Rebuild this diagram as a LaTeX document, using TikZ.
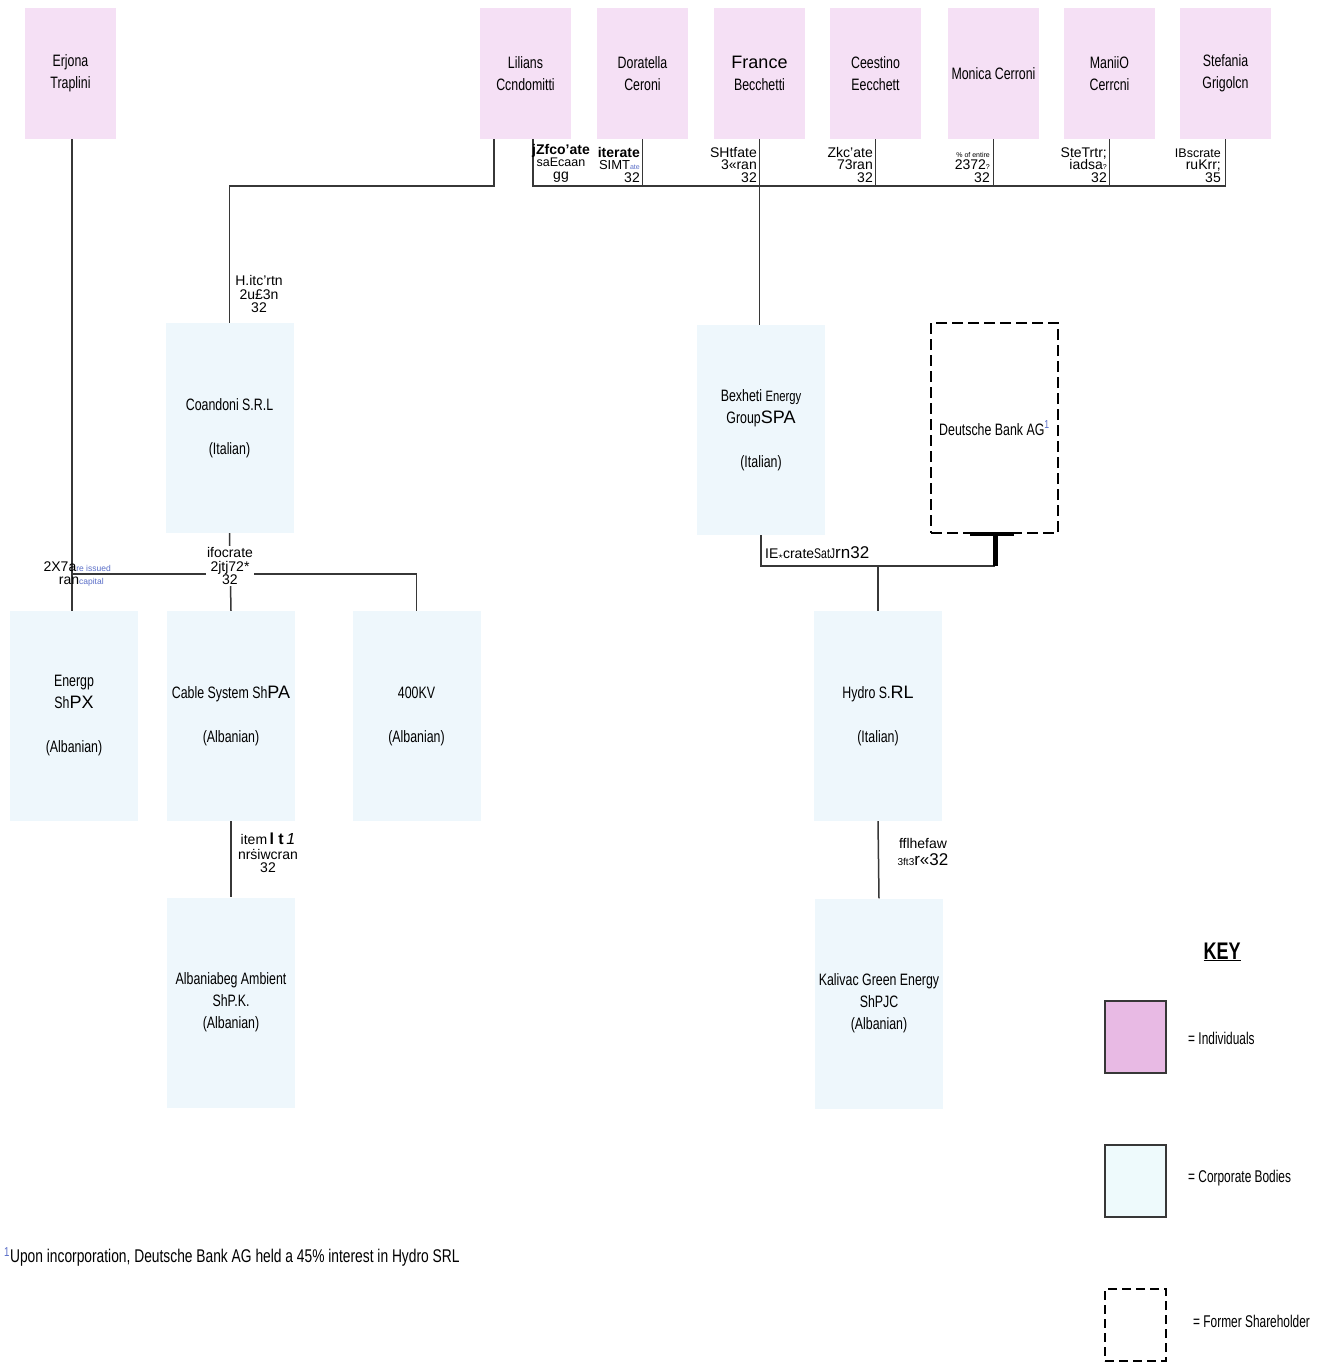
\documentclass[tikz,border=0pt]{standalone}
\usepackage{fontspec}
\setmainfont{Liberation Sans}
\newfontfamily\narrow[FakeStretch=0.75]{Liberation Sans}
\newfontfamily\keyfnt[FakeStretch=0.7]{Liberation Sans}
\definecolor{pinkc}{RGB}{245,224,245}
\definecolor{bluec}{RGB}{238,247,252}
\definecolor{keypink}{RGB}{232,186,228}
\definecolor{keyblue}{RGB}{238,250,252}
\definecolor{linec}{RGB}{55,55,55}
\definecolor{supc}{RGB}{90,110,200}
\tikzset{
  person/.style={fill=pinkc, minimum width=91pt, minimum height=131pt, inner sep=0pt, align=center, font=\narrow\fontsize{16.5}{22}\selectfont},
  corp/.style={fill=bluec, minimum width=128pt, minimum height=210pt, inner sep=0pt, align=center, font=\narrow\fontsize{16.5}{22}\selectfont},
  former/.style={draw=black, line width=2.6pt, dash pattern=on 11pt off 5pt, minimum width=127pt, minimum height=210pt, inner sep=0pt, align=center, font=\narrow\fontsize{16.5}{22}\selectfont},
  conn/.style={draw=linec, line width=1.5pt},
  lbl/.style={font=\fontsize{14}{13.5}\selectfont, align=center, inner sep=1pt},
  lblr/.style={font=\fontsize{14}{13.5}\selectfont, align=right, inner sep=1pt, anchor=south east},
  keybox/.style={draw=linec, line width=1.6pt, minimum width=61pt, minimum height=72pt, inner sep=0pt},
  keytxt/.style={anchor=west, font=\keyfnt\fontsize{17}{20}\selectfont, inner sep=0pt}
}
\begin{document}
\begin{tikzpicture}[x=1pt,y=-1pt]
\useasboundingbox[fill=white] (0,0) rectangle (1319,1371);
% individuals
\node[person] (erj) at (70.5,73.5) {Erjona\\Traplini};
\node[person] (lil) at (525.5,73.5) {Lilians\\Ccndomitti};
\node[person] (dor) at (642.5,73.5) {Doratella\\Ceroni};
\node[person] (fra) at (759.5,73.5) {{\rmfamily\fontsize{18}{22}\selectfont France}\\Becchetti};
\node[person] (cee) at (875.5,73.5) {Ceestino\\Eecchett};
\node[person] (mon) at (993.5,73.5) {Monica Cerroni};
\node[person] (man) at (1109.5,73.5) {ManiiO\\Cerrcni};
\node[person] (ste) at (1225.5,73.5) {Stefania\\Grigolcn};
% corporate bodies
\node[corp] (coa) at (229.5,428) {Coandoni S.R.L\\[22pt](Italian)};
\node[corp] (bex) at (761,430) {Bexheti {\fontsize{15}{22}\selectfont Energy}\\Group{\rmfamily\fontsize{18}{22}\selectfont SPA}\\[22pt](Italian)};
\node[former] (db) at (994.5,428) {Deutsche Bank AG\textsuperscript{\color{supc}1}};
\node[corp] (ene) at (74,716) {Energp\\Sh{\rmfamily\fontsize{18}{22}\selectfont PX}\\[22pt](Albanian)};
\node[corp] (cab) at (231,716) {Cable System Sh{\rmfamily\fontsize{18}{22}\selectfont PA}\\[22pt](Albanian)};
\node[corp] (kv) at (416.5,716) {400KV\\[22pt](Albanian)};
\node[corp] (hyd) at (878,716) {Hydro S.{\rmfamily\fontsize{18}{22}\selectfont RL}\\[22pt](Italian)};
\node[corp] (alb) at (231,1002.5) {Albaniabeg Ambient\\ShP.K.\\(Albanian)};
\node[corp] (kal) at (879,1003.5) {Kalivac Green Energy\\ShPJC\\(Albanian)};
% connectors: Erjona
\draw[conn] ([xshift=1.5pt]erj.south) -- ([xshift=1.5pt]erj.south |- ene.north);
% Lilians to Coandoni
\coordinate (lilA) at ([xshift=-31.5pt]lil.south);
\draw[conn] (lilA) -- ++(0,47) -| (coa.north);
\node[lbl, fill=white] (lcoa) at (259,294) {H.itc'rtn\\2u\textsterling3n\\32};
% top bus
\coordinate (lilB) at ([xshift=7.5pt]lil.south);
\coordinate (busL) at (533,186);
\coordinate (busR) at (1225.5,186);
\draw[conn] (lilB) -- (busL) -- (busR) -- (ste.south);
\foreach \p in {dor,fra,cee,mon,man} \draw[conn] (\p.south) -- (\p.south |- busL);
\draw[conn] (fra.south |- busL) -- (fra.south |- bex.north);
% labels above bus
\node[lbl, anchor=south] (l1) at (561,184) {\textbf{jZfco'ate}\\[-2pt]{\fontsize{12.5}{12}\selectfont saEcaan}\\gg};
\node[lblr] (l2) at (641,184) {\textbf{iterate}\\[-2pt]{\fontsize{13}{12}\selectfont SIMT{\fontsize{7}{7}\selectfont\color{supc}ate}}\\32};
\node[lblr] (l3) at (758,184) {SHtfate\\[-2pt]3\guillemotleft ran\\32};
\node[lblr] (l4) at (874,184) {Zkc'ate\\[-2pt]73{\rmfamily ran}\\32};
\node[lblr] (l5) at (991,184) {{\fontsize{7}{7}\selectfont \% of entire}\\[-2pt]2372{\scriptsize ?}\\32};
\node[lblr] (l6) at (1108,184) {SteTrtr;\\[-2pt]iadsa{\scriptsize ?}\\32};
\node[lblr] (l7) at (1222,184) {{\fontsize{12.5}{12}\selectfont IBscrate}\\[-2pt]ruKrr;\\35};
% Coandoni group
\coordinate (b2L) at (72.5,574);
\draw[conn] (coa.south) -- (cab.north);
\draw[conn] (b2L) -- (b2L -| kv.north) -- (kv.north);
\node[lbl, fill=white] (lcab) at (230,566) {ifocrate\\2jtj72*\\32};
\node[lbl, anchor=east, align=right] (lene) at (112,574) {2X7a{\fontsize{8.5}{8}\selectfont\color{supc}re issued}\\ran{\fontsize{8.5}{8}\selectfont\color{supc}capital\,\,\,\,\,}};
% Bexheti group
\coordinate (b3L) at (761,566);
\coordinate (b3R) at (995,566);
\draw[conn] (bex.south) -- (b3L) -- (b3R);
\draw[line width=5pt, draw=black] (b3R) -- (b3R |- db.south);
\draw[line width=4pt, draw=black] ([xshift=-25pt]db.south) -- ([xshift=19pt]db.south);
\draw[conn] (hyd.north |- b3L) -- (hyd.north);
\node[lbl, anchor=west] (lhyd) at (764,553) {IE{\small$\star$}crate{\narrow\fontsize{14}{11}\selectfont SatJ}{\fontsize{17}{14}\selectfont rn32}};
% lower links
\draw[conn] (cab.south) -- (alb.north);
\node[lbl] (lalb) at (268,853) {item\,{\fontsize{16}{13}\selectfont\textbf{l t}\,\textit{1}}\\[1pt]nr\.{s}iwcran\\32};
\draw[conn] (hyd.south) -- (kal.north);
\node[lbl] (lkal) at (923,852) {fflhefaw\\[3pt]{\fontsize{10}{10}\selectfont 3ft3}{\fontsize{17}{13}\selectfont r\guillemotleft 32}};
% key
\node[font=\narrow\bfseries\fontsize{24}{24}\selectfont, inner sep=0pt] (key) at (1222,952) {\underline{KEY}};
\node[keybox, fill=keypink] (k1) at (1135.5,1037) {};
\node[keytxt] (k1t) at (1188,1038) {= Individuals};
\node[keybox, fill=keyblue] (k2) at (1135.5,1181) {};
\node[keytxt] (k2t) at (1188,1178) {= Corporate Bodies};
\node[keybox, draw=black, line width=2.6pt, dash pattern=on 9pt off 5pt] (k3) at (1135.5,1325) {};
\node[keytxt] (k3t) at (1193,1321) {= Former Shareholder};
% footnote
\node[anchor=west, inner sep=0pt, font=\narrow\fontsize{18.4}{20}\selectfont] (fn) at (4,1257) {\textsuperscript{\color{supc}1}Upon incorporation, Deutsche Bank AG held a 45\% interest in Hydro SRL};
\end{tikzpicture}
\end{document}
